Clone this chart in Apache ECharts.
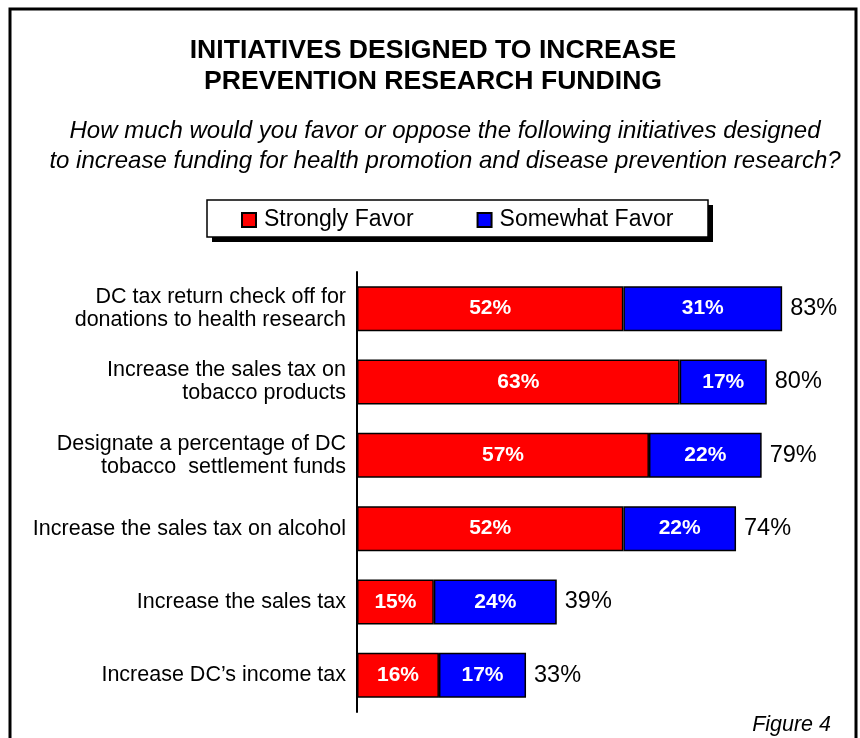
<!DOCTYPE html>
<html>
<head>
<meta charset="utf-8">
<script src="https://cdn.jsdelivr.net/npm/echarts@6/dist/echarts.min.js"></script>
<style>
  html, body { margin: 0; padding: 0; background: #fff; }
  #chart { width: 860px; height: 738px; }
</style>
</head>
<body>
<div id="chart"></div>
<script>
// Survey initiatives, top to bottom
const categories = [
  'DC tax return check off for\ndonations to health research',
  'Increase the sales tax on\ntobacco products',
  'Designate a percentage of DC\ntobacco  settlement funds',
  'Increase the sales tax on alcohol',
  'Increase the sales tax',
  'Increase DC\u2019s income tax'
];
const stronglyFavor = [52, 63, 57, 52, 15, 16];
const somewhatFavor = [31, 17, 22, 22, 24, 17];
const totalFavor = [83, 80, 79, 74, 39, 33];
const seriesNames = ['Strongly Favor', 'Somewhat Favor'];

const FONT = '"Liberation Sans", Arial, Helvetica, sans-serif';
const chart = echarts.init(document.getElementById('chart'), null, { renderer: 'canvas' });

const innerLabel = {
  show: true,
  position: 'inside',
  color: '#fff',
  fontFamily: FONT,
  fontWeight: 'bold',
  fontSize: 21,
  formatter: p => p.value + '%'
};

chart.setOption({
  backgroundColor: '#fff',
  animation: false,
  graphic: [
    // outer frame
    { type: 'rect', z: 0, shape: { x: 10, y: 9, width: 846, height: 800 },
      style: { fill: 'none', stroke: '#000', lineWidth: 3 } },
    // legend box shadow and box
    { type: 'rect', z: 0, shape: { x: 212, y: 205, width: 501, height: 37 },
      style: { fill: '#000' } },
    { type: 'rect', z: 0, shape: { x: 207, y: 200, width: 501, height: 37 },
      style: { fill: '#fff', stroke: '#000', lineWidth: 1.5 } }
  ],
  title: [
    {
      text: 'INITIATIVES DESIGNED TO INCREASE\nPREVENTION RESEARCH FUNDING',
      left: 428, top: 30, textAlign: 'center',
      textStyle: { fontFamily: FONT, fontWeight: 'bold', fontSize: 26.6, lineHeight: 31, color: '#000' }
    },
    {
      text: 'How much would you favor or oppose the following initiatives designed\nto increase funding for health promotion and disease prevention research?',
      left: 440, top: 111, textAlign: 'center',
      textStyle: { fontFamily: FONT, fontStyle: 'italic', fontWeight: 'normal', fontSize: 24, lineHeight: 30, color: '#000', align: 'center' }
    },
    {
      text: 'Figure 4',
      right: 24, top: 709,
      textStyle: { fontFamily: FONT, fontStyle: 'italic', fontWeight: 'normal', fontSize: 21.5, lineHeight: 22, color: '#000' }
    }
  ],
  legend: {
    z: 5,
    data: seriesNames,
    left: 241, top: 206,
    padding: 0,
    icon: 'rect',
    itemWidth: 14, itemHeight: 14,
    itemGap: 63,
    textStyle: { fontFamily: FONT, fontSize: 23, lineHeight: 26, color: '#000', padding: [2, 0, 0, 3] }
  },
  grid: { left: 357, top: 272, width: 461, height: 440, containLabel: false },
  xAxis: {
    type: 'value', min: 0, max: 90,
    show: false
  },
  yAxis: {
    type: 'category',
    data: categories,
    inverse: true,
    axisLine: { show: true, lineStyle: { color: '#000', width: 2 } },
    axisTick: { show: false },
    axisLabel: {
      margin: 11,
      color: '#000',
      fontFamily: FONT,
      fontSize: 21.5,
      lineHeight: 23,
      align: 'right'
    }
  },
  series: [
    {
      name: seriesNames[0], type: 'bar', stack: 'favor',
      data: stronglyFavor, barWidth: 45,
      itemStyle: { color: '#FF0000', borderColor: '#000', borderWidth: 1.5 },
      label: innerLabel
    },
    {
      name: seriesNames[1], type: 'bar', stack: 'favor',
      data: somewhatFavor, barWidth: 45,
      itemStyle: { color: '#0000FF', borderColor: '#000', borderWidth: 1.5 },
      label: innerLabel
    },
    {
      // zero-width bar at the end of each stack carries the total label
      name: 'Total', type: 'bar', stack: 'favor',
      data: totalFavor.map(() => 0), barWidth: 45,
      itemStyle: { color: 'transparent', borderWidth: 0 },
      label: {
        show: true, position: 'right', distance: 8,
        color: '#000', fontFamily: FONT, fontSize: 23.5,
        formatter: p => totalFavor[p.dataIndex] + '%'
      },
      tooltip: { show: false }
    }
  ]
});
</script>
</body>
</html>
